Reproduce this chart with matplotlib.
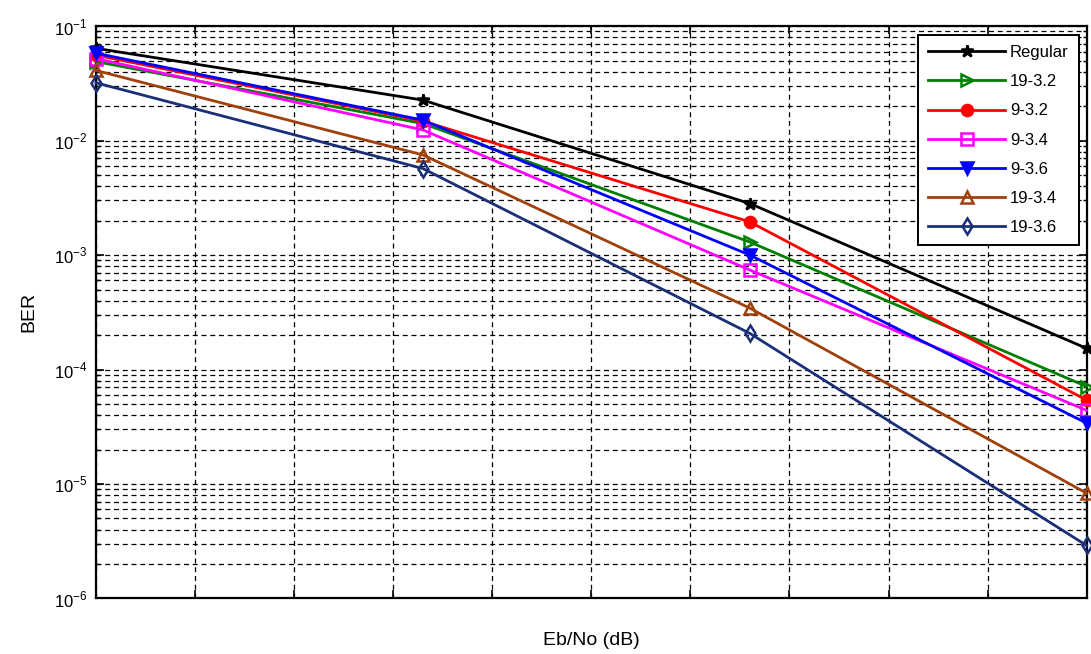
import numpy as np
import matplotlib
matplotlib.use('Agg')
import matplotlib.pyplot as plt
from matplotlib.ticker import LogLocator, NullFormatter, FixedLocator, FuncFormatter

plt.rcParams['font.family'] = ['Liberation Sans', 'DejaVu Sans']
plt.rcParams['mathtext.fontset'] = 'custom'
plt.rcParams['mathtext.rm'] = 'Liberation Sans'

# Eb/No points (axis labels are not shown in the source)
eb_no = [1.0, 1.99, 2.98, 4.0]

# BER values
ber_regular = [0.064, 0.0226, 0.00282, 1.53e-4]
ber_19_32 = [0.049, 0.0141, 0.0013, 7.1e-5]
ber_9_32 = [0.0558, 0.0148, 0.00195, 5.4e-5]
ber_9_34 = [0.052, 0.0124, 0.00074, 4.4e-5]
ber_9_36 = [0.058, 0.0151, 0.0010, 3.4e-5]
ber_19_34 = [0.041, 0.0075, 3.44e-4, 8.3e-6]
ber_19_36 = [0.032, 0.0057, 2.07e-4, 2.9e-6]

labels = ['Regular', '19-3.2', '9-3.2', '9-3.4', '9-3.6', '19-3.4', '19-3.6']

fig = plt.figure(figsize=(10.91, 6.54), dpi=100)
ax = fig.add_axes([0.088, 0.085, 0.908, 0.875])

# (data, colour, marker, filled)
styles = [
    (ber_regular, 'black', '*', True),
    (ber_19_32, '#008000', '>', False),
    (ber_9_32, '#ff0000', 'o', True),
    (ber_9_34, '#ff00ff', 's', False),
    (ber_9_36, '#0000ff', 'v', True),
    (ber_19_34, '#a0400a', '^', False),
    (ber_19_36, '#1a2f78', 'd', False),
]

for (vals, col, mk, filled), lab in zip(styles, labels):
    ax.semilogy(eb_no, vals, color=col, marker=mk, lw=2, ms=8 if mk != '*' else 9,
                markerfacecolor=col if filled else 'none', markeredgecolor=col,
                markeredgewidth=1.8, label=lab, clip_on=False, zorder=3)

ax.set_xlim(1, 4)
ax.set_ylim(1e-6, 1e-1)

ax.xaxis.set_major_locator(FixedLocator(np.linspace(1, 4, 11)))
ax.xaxis.set_major_formatter(NullFormatter())
ax.yaxis.set_major_locator(LogLocator(base=10, numticks=10))
ax.yaxis.set_major_formatter(FuncFormatter(lambda v, p: '10$^{\\mathregular{%d}}$' % round(np.log10(v))))
ax.yaxis.set_minor_locator(LogLocator(base=10, subs=np.arange(2, 10), numticks=20))
ax.yaxis.set_minor_formatter(NullFormatter())

grid_style = dict(color='black', linestyle=(0, (4, 3)), linewidth=0.9)
ax.grid(True, which='major', axis='both', **grid_style)
ax.grid(True, which='minor', axis='y', **grid_style)

ax.tick_params(which='both', direction='in', top=True, right=True)
ax.tick_params(which='major', length=6, width=1.2, labelsize=12, pad=6)
ax.tick_params(which='minor', length=3, width=1)
for sp in ax.spines.values():
    sp.set_linewidth(1.6)

ax.set_xlabel('Eb/No (dB)', fontsize=14, labelpad=18)
ax.set_ylabel('BER', fontsize=14, labelpad=12)

leg = ax.legend(loc='upper right', fontsize=12, handlelength=4.6, fancybox=False,
                framealpha=1, edgecolor='black', borderpad=0.6, labelspacing=0.85,
                handletextpad=0.3, borderaxespad=0.3, bbox_to_anchor=(0.997, 0.993))
leg.get_frame().set_linewidth(1.4)

fig.savefig('out.png', dpi=100)
